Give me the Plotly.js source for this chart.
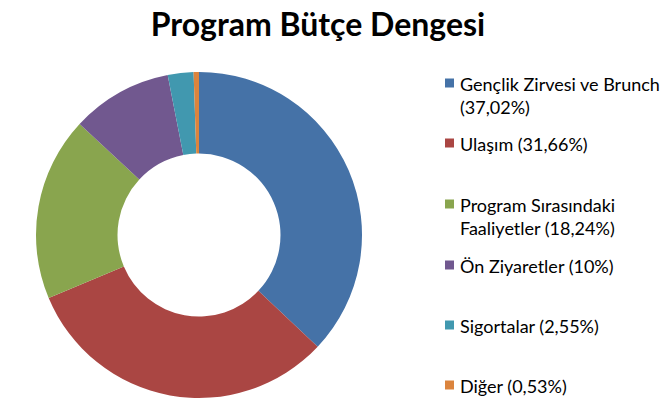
<!DOCTYPE html>
<html>
<head>
<meta charset="utf-8">
<script src="https://cdn.plot.ly/plotly-3.0.1.min.js"></script>
<style>html,body{margin:0;padding:0;background:#fff;}#chart{width:670px;height:412px;}</style>
</head>
<body>
<div id="chart"></div>
<script>
// ---- data ----
var categories = ["Gençlik Zirvesi ve Brunch", "Ulaşım", "Program Sırasındaki Faaliyetler", "Ön Ziyaretler", "Sigortalar", "Diğer"];
var shares = [37.02, 31.66, 18.24, 10, 2.55, 0.53];
var colors = ["#4572A7", "#AA4643", "#89A54E", "#71588F", "#4198AF", "#DB843D"];
var chartTitle = "Program Bütçe Dengesi";

// ---- layout helpers ----
var W = 670, H = 412;
var legendRowY = [83, 143, 204, 265, 325, 385]; // first-line centres (px)
var FONT = "Lato, 'Open Sans', sans-serif";

function fmtPct(v) { return String(v).replace('.', ',') + '%'; }
function wrap(text, limit) {
  var words = text.split(' '), lines = [], cur = '';
  words.forEach(function (w) {
    var t = cur ? cur + ' ' + w : w;
    if (t.length > limit && cur) { lines.push(cur); cur = w; } else { cur = t; }
  });
  if (cur) lines.push(cur);
  return lines.join('<br>');
}

var annotations = [], shapes = [];
categories.forEach(function (c, i) {
  var txt = wrap(c + ' (' + fmtPct(shares[i]) + ')', 25);
  annotations.push({
    xref: 'paper', yref: 'paper',
    x: 458 / W, y: 1 - (legendRowY[i] - 12.5) / H,
    xanchor: 'left', yanchor: 'top', align: 'left',
    text: txt, showarrow: false,
    font: {family: FONT, size: 18, color: '#000'}
  });
  shapes.push({
    type: 'rect', xref: 'paper', yref: 'paper',
    x0: 445 / W, x1: 454 / W,
    y0: 1 - (legendRowY[i] + 4.5) / H, y1: 1 - (legendRowY[i] - 4.5) / H,
    fillcolor: colors[i], line: {width: 0}
  });
});

var trace = {
  type: 'pie',
  labels: categories,
  values: shares,
  hole: 0.5,
  sort: false,
  direction: 'clockwise',
  rotation: 0,
  textinfo: 'none',
  marker: {colors: colors, line: {color: '#ffffff', width: 0}},
  domain: {x: [36 / W, 362 / W], y: [1 - 398 / H, 1 - 72 / H]},
  showlegend: false
};

var layout = {
  width: W, height: H,
  margin: {l: 0, r: 0, t: 0, b: 0},
  paper_bgcolor: '#fff',
  title: {text: '<b>' + chartTitle + '</b>', x: 318 / W, xanchor: 'center', y: 1 - 25 / H, yanchor: 'middle',
          font: {family: FONT, size: 32, color: '#000'}},
  annotations: annotations,
  shapes: shapes
};

Plotly.newPlot('chart', [trace], layout, {displayModeBar: false, staticPlot: true});
</script>
</body>
</html>
